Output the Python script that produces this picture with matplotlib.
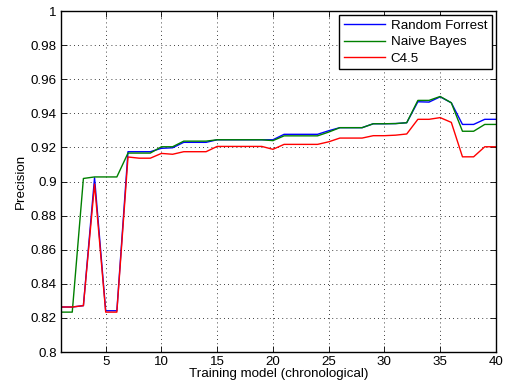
import matplotlib
matplotlib.use("Agg")
import matplotlib.pyplot as plt
import numpy as np

models = list(range(1, 41))

random_forrest = [0.8264, 0.8264, 0.8272, 0.9022, 0.8242, 0.8242, 0.9175, 0.9175, 0.9175, 0.9195,
                  0.9198, 0.9230, 0.9230, 0.9230, 0.9245, 0.9245, 0.9245, 0.9245, 0.9245, 0.9245,
                  0.9277, 0.9277, 0.9277, 0.9277, 0.9298, 0.9316, 0.9316, 0.9316, 0.9339, 0.9339,
                  0.9340, 0.9345, 0.9468, 0.9466, 0.9497, 0.9462, 0.9335, 0.9335, 0.9365, 0.9365]

naive_bayes = [0.8234, 0.8234, 0.9018, 0.9027, 0.9027, 0.9027, 0.9167, 0.9167, 0.9167, 0.9204,
               0.9204, 0.9237, 0.9237, 0.9237, 0.9245, 0.9245, 0.9245, 0.9245, 0.9245, 0.9240,
               0.9268, 0.9268, 0.9268, 0.9268, 0.9290, 0.9316, 0.9316, 0.9316, 0.9339, 0.9339,
               0.9340, 0.9345, 0.9476, 0.9476, 0.9499, 0.9462, 0.9295, 0.9295, 0.9335, 0.9335]

c45 = [0.8264, 0.8264, 0.8272, 0.8985, 0.8234, 0.8234, 0.9144, 0.9137, 0.9137, 0.9165,
       0.9160, 0.9175, 0.9175, 0.9175, 0.9206, 0.9206, 0.9206, 0.9206, 0.9206, 0.9189,
       0.9218, 0.9218, 0.9218, 0.9218, 0.9233, 0.9255, 0.9255, 0.9255, 0.9269, 0.9269,
       0.9272, 0.9279, 0.9365, 0.9365, 0.9375, 0.9347, 0.9145, 0.9145, 0.9204, 0.9204]

series_names = ["Random Forrest", "Naive Bayes", "C4.5"]
x_ticks = [5, 10, 15, 20, 25, 30, 35, 40]
y_ticks = [0.8, 0.82, 0.84, 0.86, 0.88, 0.9, 0.92, 0.94, 0.96, 0.98, 1.0]
y_tick_labels = ["0.8", "0.82", "0.84", "0.86", "0.88", "0.9", "0.92", "0.94", "0.96", "0.98", "1"]

plt.rcParams['font.family'] = ['Liberation Sans', 'DejaVu Sans']
FS = 9.6

fig = plt.figure(figsize=(5.05, 3.91), dpi=100)
ax = fig.add_axes([0.121, 0.0997, 0.861, 0.872])

ax.plot(models, random_forrest, color=(0, 0, 1), lw=1.0, label=series_names[0])
ax.plot(models, naive_bayes, color=(0, 0.5, 0), lw=1.0, label=series_names[1])
ax.plot(models, c45, color=(1, 0, 0), lw=1.0, label=series_names[2])

ax.set_xlim(1, 40)
ax.set_ylim(0.8, 1.0)
ax.set_xticks(x_ticks)
ax.set_xticklabels([str(t) for t in x_ticks])
ax.set_yticks(y_ticks)
ax.set_yticklabels(y_tick_labels)

ax.grid(True, linestyle=(0, (1, 4)), color='k', lw=0.6)
ax.tick_params(direction='in', top=True, right=True, length=4, width=0.6,
               labelsize=FS, pad=3)
for s in ax.spines.values():
    s.set_linewidth(1.0)

ax.set_xlabel("Training model (chronological)", fontsize=FS, labelpad=0)
ax.set_ylabel("Precision", fontsize=FS, labelpad=3)

leg = ax.legend(loc='upper right', fontsize=FS, frameon=True, fancybox=False,
                edgecolor='k', framealpha=1, borderaxespad=0.3,
                handlelength=3.1, handletextpad=0.4, labelspacing=0.3,
                borderpad=0.35)
leg.get_frame().set_linewidth(1.0)

fig.savefig("out.png", dpi=100)
